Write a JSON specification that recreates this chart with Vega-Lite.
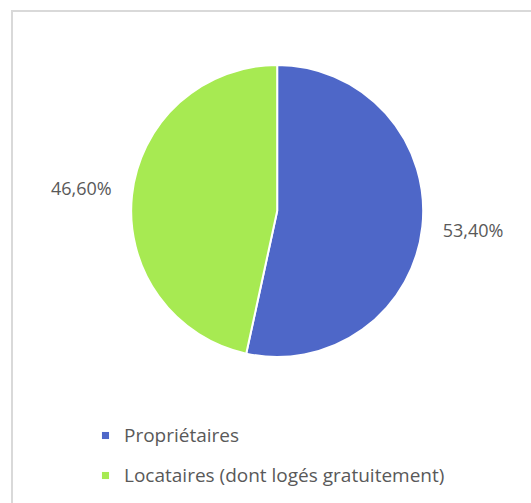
{
  "$schema": "https://vega.github.io/schema/vega-lite/v6.json",
  "width": 522,
  "height": 495,
  "autosize": {"type": "none"},
  "padding": {"left": 12, "top": 11, "right": -3, "bottom": -3},
  "background": "white",
  "config": {
    "view": {"stroke": "#d9d9d9", "strokeWidth": 2},
    "font": "Open Sans"
  },
  "data": {
    "values": [
      {"cat": "Propriétaires", "value": 53.4, "label": "53,40%", "order": 1},
      {"cat": "Locataires (dont logés gratuitement)", "value": 46.6, "label": "46,60%", "order": 2}
    ]
  },
  "encoding": {
    "theta": {"field": "value", "type": "quantitative", "stack": true},
    "order": {"field": "order", "type": "quantitative"},
    "x": {"datum": 0.508, "type": "quantitative", "scale": {"domain": [0, 1]}, "axis": null},
    "y": {"datum": 0.404, "type": "quantitative", "scale": {"domain": [0, 1], "reverse": true}, "axis": null}
  },
  "layer": [
    {
      "mark": {"type": "arc", "outerRadius": 146, "stroke": "white", "strokeWidth": 2},
      "encoding": {
        "color": {
          "field": "cat",
          "type": "nominal",
          "sort": ["Propriétaires", "Locataires (dont logés gratuitement)"],
          "scale": {"domain": ["Propriétaires", "Locataires (dont logés gratuitement)"], "range": ["#4E67C8", "#A7EA52"]},
          "legend": {
            "orient": "none",
            "legendX": 84,
            "legendY": 415,
            "direction": "vertical",
            "title": null,
            "symbolType": "square",
            "symbolSize": 50,
            "symbolStrokeWidth": 0,
            "labelFontSize": 19,
            "labelFont": "Open Sans",
            "labelColor": "#595959",
            "labelOffset": 9,
            "rowPadding": 20,
            "labelLimit": 500
          }
        }
      }
    },
    {
      "mark": {"type": "text", "radius": 197, "fontSize": 18, "fill": "#595959", "font": "Open Sans"},
      "encoding": {"text": {"field": "label", "type": "nominal"}}
    }
  ]
}
